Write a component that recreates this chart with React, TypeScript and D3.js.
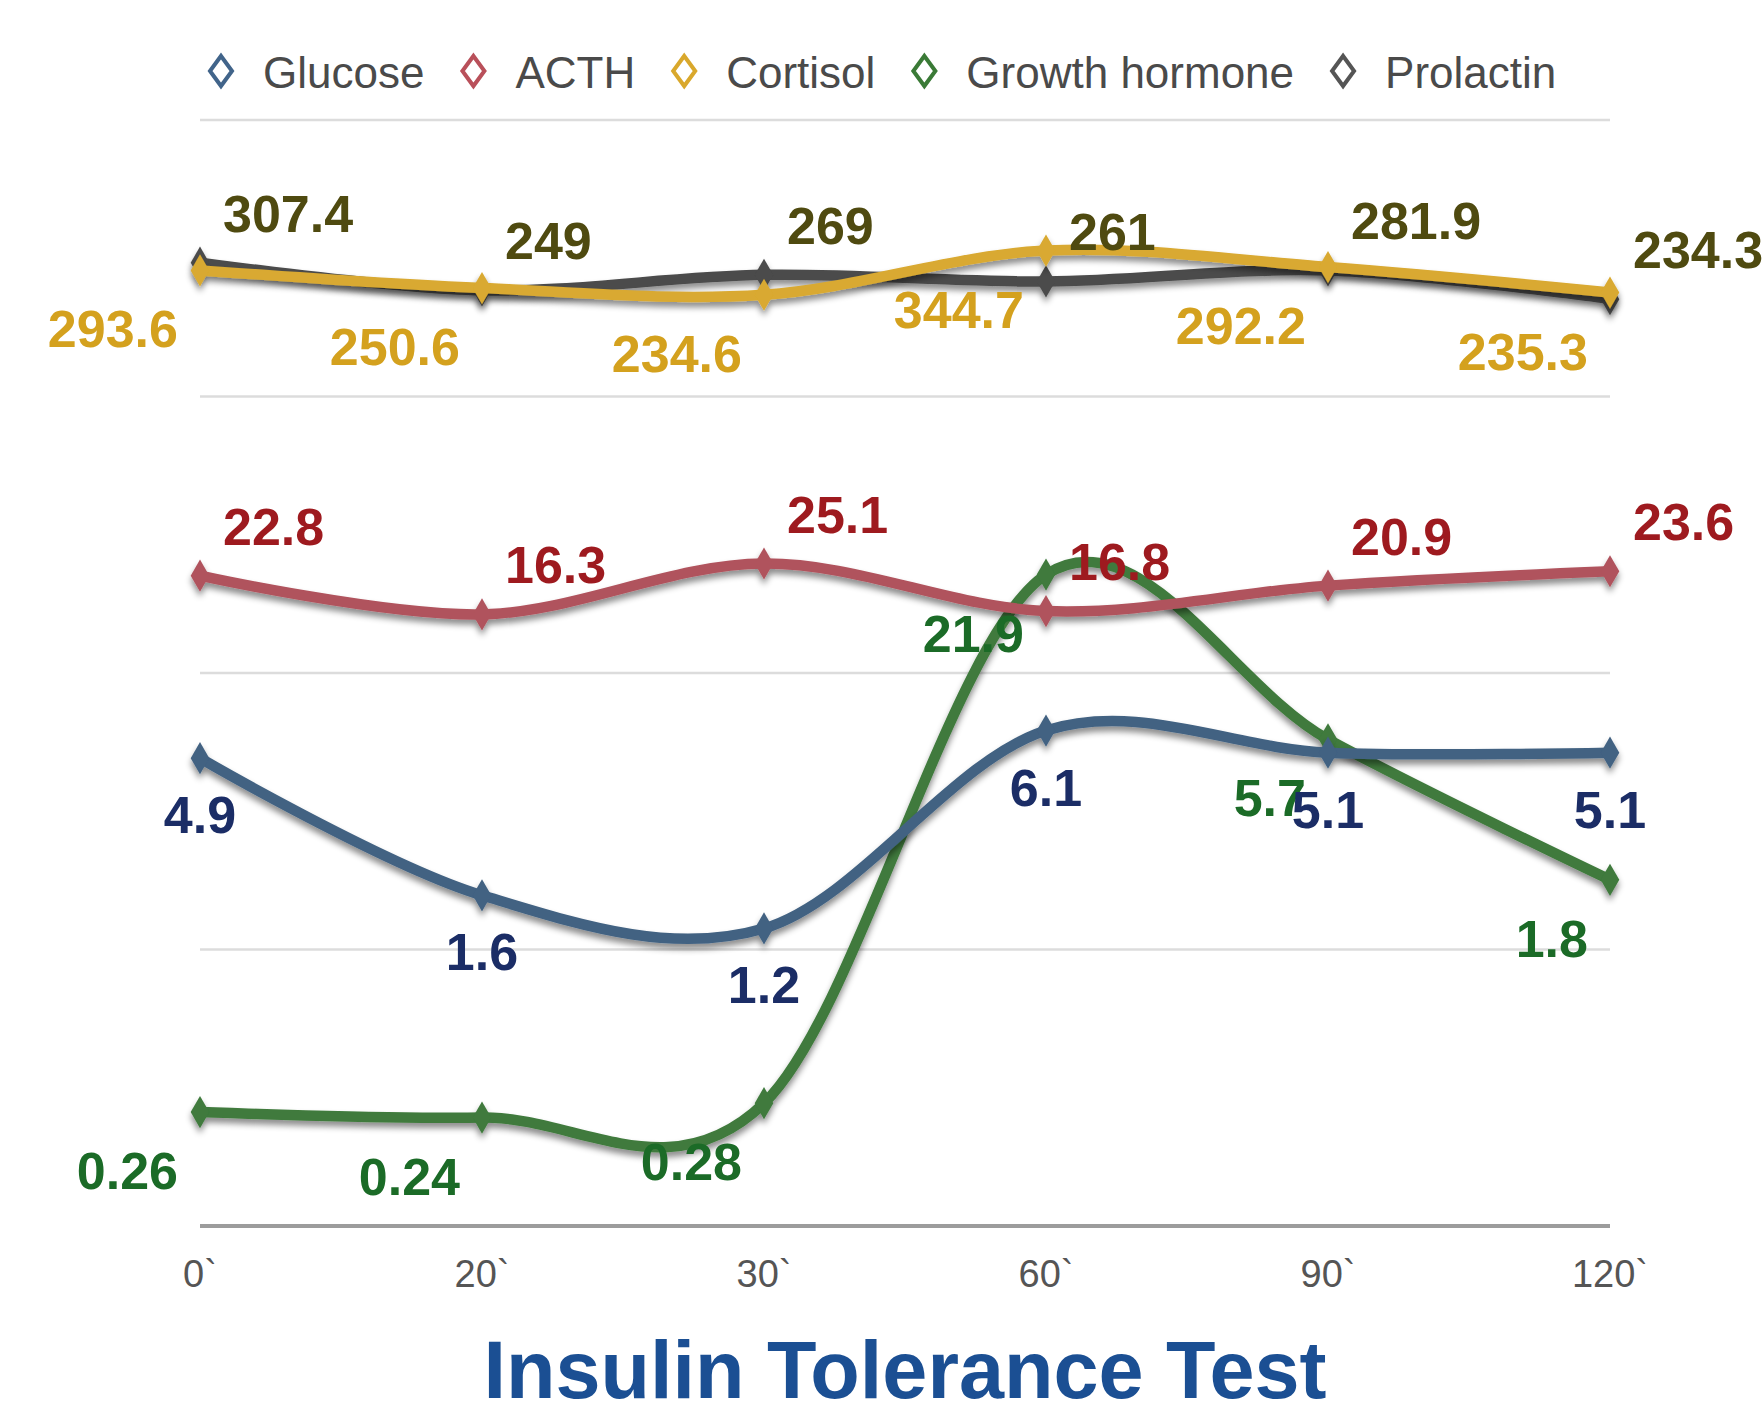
import React, { useEffect, useRef } from 'react';
import * as d3 from 'd3';

// time points of the test
const times = ["0`", "20`", "30`", "60`", "90`", "120`"];

// values printed next to each point
const glucoseLabels = [4.9, 1.6, 1.2, 6.1, 5.1, 5.1];
const acthLabels = [22.8, 16.3, 25.1, 16.8, 20.9, 23.6];
const cortisolLabels = [293.6, 250.6, 234.6, 344.7, 292.2, 235.3];
const ghLabels = [0.26, 0.24, 0.28, 21.9, 5.7, 1.8];
const prolactinLabels = [307.4, 249, 269, 261, 281.9, 234.3];

// plotted heights (0-100 band scale)
const glucosePos = [42.3, 29.9, 26.9, 44.8, 42.8, 42.8];
const acthPos = [58.8, 55.3, 59.9, 55.6, 57.9, 59.2];
const cortisolPos = [86.4, 84.8, 84.2, 88.2, 86.7, 84.4];
const ghPos = [10.3, 9.8, 11.1, 58.9, 44.0, 31.3];
const prolactinPos = [87.1, 84.6, 86.0, 85.4, 86.4, 83.8];

const gridTicks = [0, 25, 50, 75, 100];

type LabelPlace = 'aboveRight' | 'belowLeft' | 'below';

interface Series {
  name: string;
  pos: number[];
  labels: number[];
  line: string;
  text: string;
  legend: string;
  place: LabelPlace;
}

const series: Series[] = [
  { name: 'Glucose', pos: glucosePos, labels: glucoseLabels, line: '#426282', text: '#1b2d66', legend: '#41648a', place: 'below' },
  { name: 'ACTH', pos: acthPos, labels: acthLabels, line: '#b0535d', text: '#9e1a1f', legend: '#b9505a', place: 'aboveRight' },
  { name: 'Cortisol', pos: cortisolPos, labels: cortisolLabels, line: '#d9a930', text: '#d4a11e', legend: '#d9a82c', place: 'belowLeft' },
  { name: 'Growth hormone', pos: ghPos, labels: ghLabels, line: '#3f7a3c', text: '#1b6b27', legend: '#3a7a36', place: 'belowLeft' },
  { name: 'Prolactin', pos: prolactinPos, labels: prolactinLabels, line: '#4b4b4b', text: '#4f4a10', legend: '#555555', place: 'aboveRight' },
];

// drawing order (later = on top)
const drawOrder = ['Prolactin', 'Growth hormone', 'Glucose', 'ACTH', 'Cortisol'];

const WIDTH = 1763;
const HEIGHT = 1419;
const FONT = "'Liberation Sans', Arial, Helvetica, sans-serif";

const App: React.FC = () => {
  const svgRef = useRef<SVGSVGElement>(null);

  useEffect(() => {
    if (!svgRef.current) return;
    const svg = d3.select(svgRef.current);
    svg.selectAll('*').remove();

    const left = 200;
    const right = 1610;
    const top = 120;
    const bottom = 1226;

    const x = d3.scalePoint<string>().domain(times).range([left, right]);
    const y = d3.scaleLinear().domain([0, 100]).range([bottom, top]);

    const defs = svg.append('defs');
    const f = defs.append('filter').attr('id', 'shadow')
      .attr('x', '-10%').attr('y', '-30%').attr('width', '120%').attr('height', '160%');
    f.append('feDropShadow')
      .attr('dx', 0).attr('dy', 5).attr('stdDeviation', 3)
      .attr('flood-color', '#000').attr('flood-opacity', 0.45);

    // grid lines
    svg.append('g')
      .selectAll('line')
      .data(gridTicks.filter(t => t > 0))
      .join('line')
      .attr('x1', left).attr('x2', right)
      .attr('y1', d => y(d)).attr('y2', d => y(d))
      .attr('stroke', '#dcdcdc')
      .attr('stroke-width', 2.5);

    // baseline
    svg.append('line')
      .attr('x1', left).attr('x2', right)
      .attr('y1', y(0)).attr('y2', y(0))
      .attr('stroke', '#9c9c9c')
      .attr('stroke-width', 4);

    // x tick labels
    svg.append('g')
      .selectAll('text')
      .data(times)
      .join('text')
      .attr('x', d => x(d)!)
      .attr('y', 1287)
      .attr('text-anchor', 'middle')
      .attr('font-family', FONT)
      .attr('font-size', 38)
      .attr('fill', '#555')
      .text(d => d);

    const line = d3.line<number>()
      .x((_, i) => x(times[i])!)
      .y(d => y(d))
      .curve(d3.curveCardinal.tension(0));

    const diamond = d3.symbol().type(d3.symbolDiamond).size(300);

    const ordered = drawOrder.map(n => series.find(s => s.name === n)!);

    const gLines = svg.append('g');
    ordered.forEach(s => {
      const g = gLines.append('g').attr('filter', 'url(#shadow)');
      g.append('path')
        .datum(s.pos)
        .attr('d', line)
        .attr('fill', 'none')
        .attr('stroke', s.line)
        .attr('stroke-width', 10.5)
        .attr('stroke-linecap', 'round');
      g.selectAll('path.pt')
        .data(s.pos)
        .join('path')
        .attr('class', 'pt')
        .attr('d', diamond)
        .attr('transform', (d, i) => `translate(${x(times[i])},${y(d)})`)
        .attr('fill', s.line);
    });

    // value labels
    const gLabels = svg.append('g');
    ordered.forEach(s => {
      gLabels.append('g')
        .selectAll('text')
        .data(s.pos)
        .join('text')
        .attr('x', (_, i) => {
          const px = x(times[i])!;
          if (s.place === 'aboveRight') return px + 23;
          if (s.place === 'belowLeft') return px - 22;
          return px;
        })
        .attr('y', d => {
          if (s.place === 'aboveRight') return y(d) - 31;
          if (s.place === 'belowLeft') return y(d) + 77;
          return y(d) + 75;
        })
        .attr('text-anchor', s.place === 'aboveRight' ? 'start' : s.place === 'belowLeft' ? 'end' : 'middle')
        .attr('font-family', FONT)
        .attr('font-weight', 'bold')
        .attr('font-size', 52)
        .attr('fill', s.text)
        .text((_, i) => String(s.labels[i]));
    });

    // legend
    const gLegend = svg.append('g');
    let lx = 221;
    const ly = 71;
    series.forEach(s => {
      gLegend.append('path')
        .attr('d', `M${lx},${ly - 15}L${lx + 11},${ly}L${lx},${ly + 15}L${lx - 11},${ly}Z`)
        .attr('fill', '#fff')
        .attr('stroke', s.legend)
        .attr('stroke-width', 4);
      const t = gLegend.append('text')
        .attr('x', lx + 42)
        .attr('y', 88)
        .attr('font-family', FONT)
        .attr('font-size', 44)
        .attr('fill', '#4a4a4a')
        .text(s.name);
      const w = (t.node() as SVGTextElement).getComputedTextLength();
      lx = lx + 42 + w + 49;
    });

    // title
    svg.append('text')
      .attr('x', (left + right) / 2)
      .attr('y', 1398)
      .attr('text-anchor', 'middle')
      .attr('font-family', FONT)
      .attr('font-weight', 'bold')
      .attr('font-size', 81)
      .attr('fill', '#1b4f93')
      .text('Insulin Tolerance Test');
  }, []);

  return (
    <div style={{ position: 'absolute', left: 0, top: 0 }}>
      <svg ref={svgRef} width={WIDTH} height={HEIGHT} style={{ display: 'block', background: '#fff' }} />
    </div>
  );
};

export default App;
